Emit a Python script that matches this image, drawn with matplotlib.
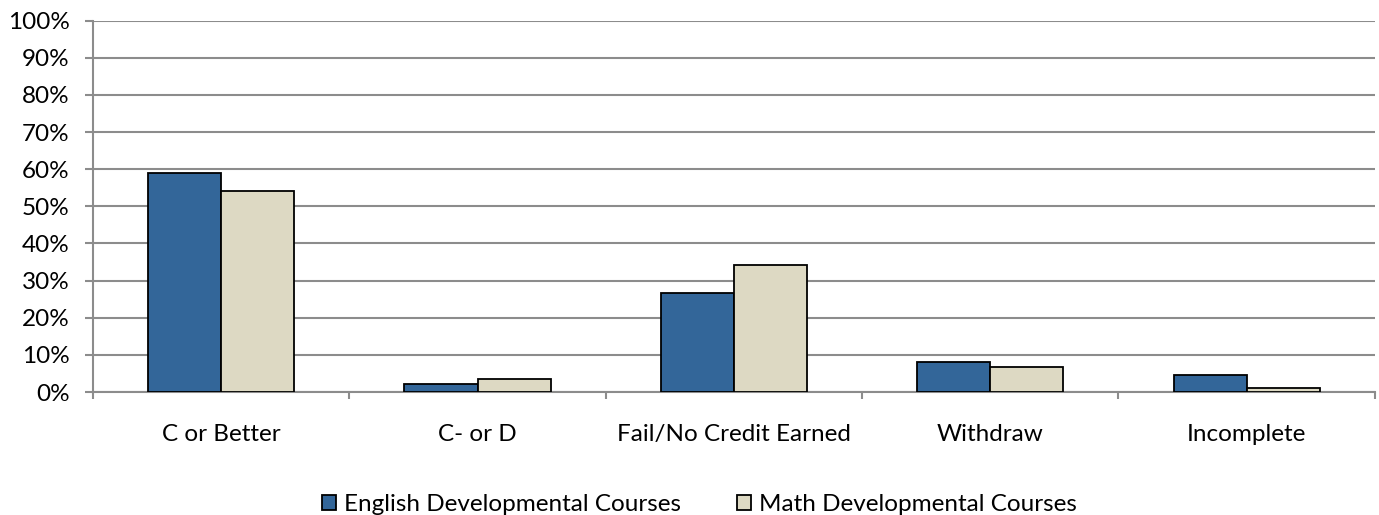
import numpy as np
import matplotlib.pyplot as plt
from matplotlib.patches import Patch
from matplotlib.ticker import FixedLocator, PercentFormatter

categories = ['C or Better', 'C- or D', 'Fail/No Credit Earned', 'Withdraw', 'Incomplete']
english = [59.0, 2.1, 26.7, 8.1, 4.5]
math_dev = [54.1, 3.6, 34.3, 6.8, 1.1]
series_names = ['English Developmental Courses', 'Math Developmental Courses']

plt.rcParams['font.family'] = ['Lato', 'DejaVu Sans']

fig = plt.figure(figsize=(13.79, 5.15), dpi=100)
ax = fig.add_axes([0.0674, 0.2388, 0.9296, 0.7212])

x = np.arange(len(categories))
w = 0.285
grid_c = '#8c8c8c'
ax.bar(x - w / 2, english, w, color='#336699', edgecolor='black', linewidth=1.3, zorder=3)
ax.bar(x + w / 2, math_dev, w, color='#ddd9c3', edgecolor='black', linewidth=1.3, zorder=3)

ax.set_xlim(-0.5, len(categories) - 0.5)
ax.set_ylim(0, 100)
ax.set_yticks(np.arange(0, 101, 10))
ax.yaxis.set_major_formatter(PercentFormatter(decimals=0))
ax.yaxis.grid(True, color=grid_c, linewidth=1.5, zorder=0)

# category labels between boundary ticks
ax.set_xticks(x)
ax.set_xticklabels(categories, fontsize=17.5)
ax.tick_params(axis='x', which='major', length=0, pad=23)
ax.xaxis.set_minor_locator(FixedLocator(np.arange(-0.5, len(categories), 1)))
ax.tick_params(axis='x', which='minor', length=5, width=1.5, color=grid_c)
ax.tick_params(axis='y', length=5.8, width=1.5, color=grid_c, labelsize=17.5, pad=11)

for s in ['top', 'right']:
    ax.spines[s].set_visible(False)
for s in ['left', 'bottom']:
    ax.spines[s].set_color(grid_c)
    ax.spines[s].set_linewidth(1.5)

handles = [Patch(facecolor='#336699', edgecolor='black', linewidth=1.3),
           Patch(facecolor='#ddd9c3', edgecolor='black', linewidth=1.3)]
fig.legend(handles, series_names, loc='center', bbox_to_anchor=(0.507, 0.02), ncol=2,
           frameon=False, fontsize=17.5, handlelength=0.6, handleheight=0.6,
           handletextpad=0.3, columnspacing=2.3, borderpad=0)

fig.savefig('out.png', dpi=100)
